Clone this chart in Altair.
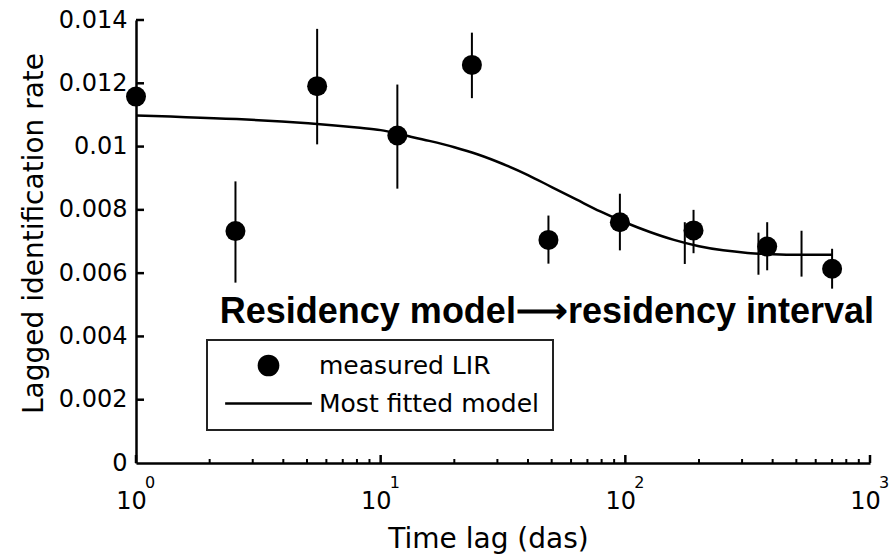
import altair as alt
import pandas as pd

FONT = "DejaVu Sans"

# ---- measured LIR (points + error bars) ----
lag_meas = [1.0, 2.55, 5.5, 11.7, 23.6, 48.5, 95.0, 190.0, 380.0, 700.0]
lir_meas = [0.01158, 0.00733, 0.01191, 0.01035, 0.01258, 0.00705, 0.00761, 0.00735, 0.00684, 0.00614]
lir_lo = [None, 0.0057, 0.01007, 0.00867, 0.01153, 0.0063, 0.00672, 0.00663, 0.00609, 0.00551]
lir_hi = [None, 0.0089, 0.01372, 0.01196, 0.0136, 0.00782, 0.00851, 0.0080, 0.00761, 0.00677]

# ---- extra error bars on the model tail ----
lag_extra = [175.0, 350.0, 525.0]
extra_lo = [0.00629, 0.00595, 0.00589]
extra_hi = [0.00761, 0.00728, 0.00734]

# ---- most fitted model ----
lag_fit = [1, 8, 10, 12.6, 15.8, 20, 25, 31.6, 40, 50, 63, 79, 100, 126, 158, 200, 251, 316, 398, 500, 700]
lir_fit = [0.01098, 0.0106, 0.01052, 0.01035, 0.01018, 0.00998, 0.00975, 0.00945, 0.0091, 0.00872,
           0.00833, 0.00795, 0.0076, 0.0073, 0.00705, 0.00685, 0.00672, 0.00664, 0.0066, 0.00658, 0.00658]

# ---- axes / labels ----
y_ticks = [0, 0.002, 0.004, 0.006, 0.008, 0.01, 0.012, 0.014]
x_major = [1, 10, 100, 1000]
x_base_label = "10"
x_exponents = ["0", "1", "2", "3"]
x_minor = [2, 3, 4, 5, 6, 7, 8, 9, 20, 30, 40, 50, 60, 70, 80, 90,
           200, 300, 400, 500, 600, 700, 800, 900]
legend_labels = ["measured LIR", "Most fitted model"]
annot_text = ["Residency model\u27f6residency interval"]
annot_x = [2.2]
annot_y = [0.00441]

meas_df = pd.DataFrame({"lag": lag_meas, "lir": lir_meas, "series": legend_labels[0]})
err_rows = [(l, lo, hi) for l, lo, hi in zip(lag_meas, lir_lo, lir_hi) if lo is not None]
err_rows += list(zip(lag_extra, extra_lo, extra_hi))
err_df = pd.DataFrame(err_rows, columns=["lag", "lo", "hi"])
fit_df = pd.DataFrame({"lag": lag_fit, "lir": lir_fit})
ytick_df = pd.DataFrame({"lir": y_ticks[1:]})
xmaj_df = pd.DataFrame({"lag": x_major, "e": x_exponents})
xmin_df = pd.DataFrame({"lag": x_minor})
annot_df = pd.DataFrame({"lag": annot_x, "lir": annot_y, "t": annot_text})

xs = alt.Scale(type="log", domain=[1, 1000], nice=False)
ys = alt.Scale(domain=[0, 0.014], nice=False, zero=False)

x_axis = alt.Axis(
    values=x_major, labelExpr="'" + x_base_label + "'", ticks=False, tickSize=0,
    domain=True, domainColor="black", domainWidth=2.5, grid=False,
    labelFont=FONT, labelFontSize=24, labelColor="black", labelPadding=26,
    labelOffset=-5, labelFlush=False,
    title="Time lag (das)", titleFont=FONT, titleFontSize=28, titleFontWeight="normal",
    titleColor="black", titleX=352, titleY=84, titleBaseline="alphabetic", titleAlign="center",
)
y_axis = alt.Axis(
    values=y_ticks, format="~g", ticks=False, tickSize=0,
    domain=True, domainColor="black", domainWidth=2.5, grid=False,
    labelFont=FONT, labelFontSize=24, labelColor="black", labelPadding=9, labelFlush=False,
    title="Lagged identification rate", titleFont=FONT, titleFontSize=28,
    titleFontWeight="normal", titleColor="black", titleX=-94, titleY=213,
    titleAngle=270, titleBaseline="alphabetic", titleAlign="center",
)

X = alt.X("lag:Q", scale=xs, title="Time lag (das)")
Y = alt.Y("lir:Q", scale=ys, title="Lagged identification rate")

points = alt.Chart(meas_df).mark_point(filled=True, color="black", size=400, opacity=1).encode(
    x=alt.X("lag:Q", scale=xs, axis=x_axis),
    y=alt.Y("lir:Q", scale=ys, axis=y_axis),
    shape=alt.Shape(
        "series:N",
        scale=alt.Scale(domain=legend_labels,
                        range=["circle", "M-4,-0.11L4,-0.11L4,0.11L-4,0.11Z"]),
        legend=alt.Legend(
            title=None, orient="none", legendX=71, legendY=320, padding=13, rowPadding=12,
            symbolSize=470, symbolFillColor="black", symbolStrokeColor="black",
            symbolStrokeWidth=0, symbolOpacity=1, symbolOffset=36, labelOffset=38,
            labelFont=FONT, labelFontSize=25, labelColor="black", labelLimit=0,
            fillColor="white", strokeColor="#222222",
        ),
    ),
)

line = alt.Chart(fit_df).mark_line(color="black", strokeWidth=2.5, interpolate="monotone").encode(
    x=X, y=Y,
)

errbars = alt.Chart(err_df).mark_rule(color="black", strokeWidth=2).encode(
    x=X,
    y=alt.Y("lo:Q", scale=ys, title="Lagged identification rate"),
    y2="hi:Q",
)

annot = alt.Chart(annot_df).mark_text(
    font="Liberation Sans", fontWeight="bold", fontSize=36, align="left",
    baseline="alphabetic", color="black",
).encode(x=X, y=Y, text="t:N")

yticks = alt.Chart(ytick_df).mark_rule(color="black", strokeWidth=2.5).encode(
    y=Y, x=alt.value(0), x2=alt.value(8),
)
xticks_major = alt.Chart(xmaj_df).mark_rule(color="black", strokeWidth=2.5).encode(
    x=X, y=alt.value(443), y2=alt.value(435),
)
xticks_minor = alt.Chart(xmin_df).mark_rule(color="black", strokeWidth=2).encode(
    x=X, y=alt.value(443), y2=alt.value(439),
)
exps = alt.Chart(xmaj_df).mark_text(
    font=FONT, fontSize=16, align="left", baseline="alphabetic", color="black", dx=9,
).encode(x=X, y=alt.value(468), text="e:N")

chart = alt.layer(
    points, line, errbars, annot, yticks, xticks_major, xticks_minor, exps
).properties(
    width=734, height=443,
    autosize=alt.AutoSizeParams(type="none"),
    padding={"left": 136, "top": 20, "right": 26, "bottom": 92},
).configure_view(stroke=None).configure_legend(strokeWidth=2)

chart.save("out.html", embed_options={"renderer": "svg", "actions": False})
